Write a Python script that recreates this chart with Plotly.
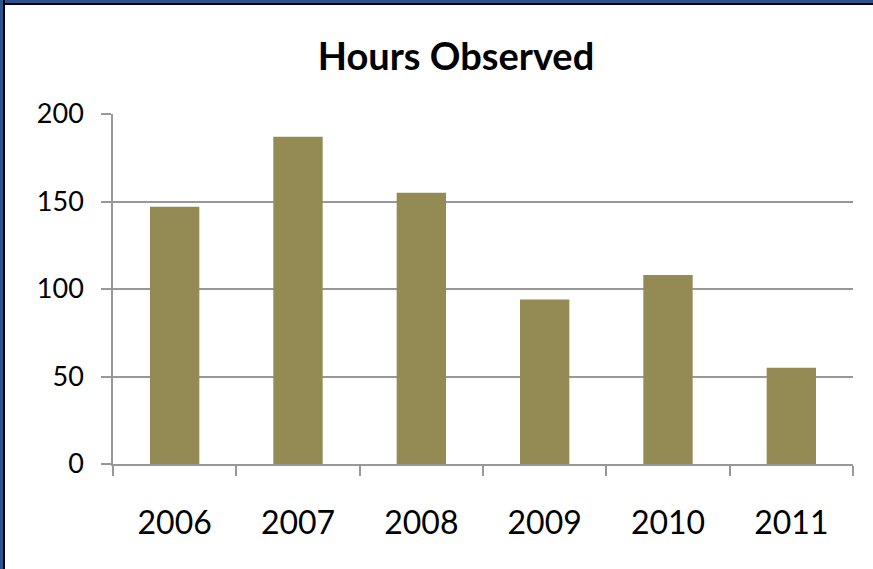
import plotly.graph_objects as go

years = ["2006", "2007", "2008", "2009", "2010", "2011"]
hours = [147, 187, 155, 94, 108, 55]

W, H = 873, 569
ml, mr, mt, mb = 113, 20, 114, 105

fig = go.Figure()
fig.add_trace(go.Bar(x=years, y=hours, marker=dict(color="#948A54", line=dict(width=0)),
                     width=0.4))

fig.update_layout(
    width=W, height=H,
    margin=dict(l=ml, r=mr, t=mt, b=mb, autoexpand=False),
    paper_bgcolor="white", plot_bgcolor="white",
    showlegend=False,
    font=dict(family="Lato", color="black"),
    title=dict(text="<b>Hours Observed</b>", x=456 / W, xanchor="center",
               y=1 - 57 / H, yanchor="middle", font=dict(size=38, family="Lato")),
)

fig.update_yaxes(range=[0, 200], dtick=50, showgrid=True, gridcolor="#989898", gridwidth=1.5,
                 showline=True, linecolor="#989898", linewidth=1.5,
                 ticks="outside", ticklen=10, tickcolor="#989898", tickwidth=1.5,
                 tickfont=dict(size=27), ticklabelstandoff=12, zeroline=False)
fig.update_xaxes(showline=True, linecolor="#989898", linewidth=1.5,
                 ticks="outside", ticklen=10, tickcolor="#989898", tickwidth=1.5,
                 tickson="boundaries", tickfont=dict(size=32), ticklabelstandoff=30)

# outer frame: blue band with thin black inner line, left and top edges only
px = lambda v: (v - ml) / (W - ml - mr)
py = lambda v: 1 - (v - mt) / (H - mt - mb)
for off, col, w in [(1.5, "#2A5391", 3.5), (4, "black", 2)]:
    fig.add_shape(type="line", xref="paper", yref="paper", x0=px(off), x1=px(off), y0=py(0), y1=py(H),
                  line=dict(color=col, width=w), layer="above")
    fig.add_shape(type="line", xref="paper", yref="paper", x0=px(off if col == "black" else 0), x1=px(W),
                  y0=py(off), y1=py(off), line=dict(color=col, width=w), layer="above")

fig.write_html("out.html", config={"displayModeBar": False},
               post_script="document.body.style.margin='0';document.body.style.overflow='hidden';")
